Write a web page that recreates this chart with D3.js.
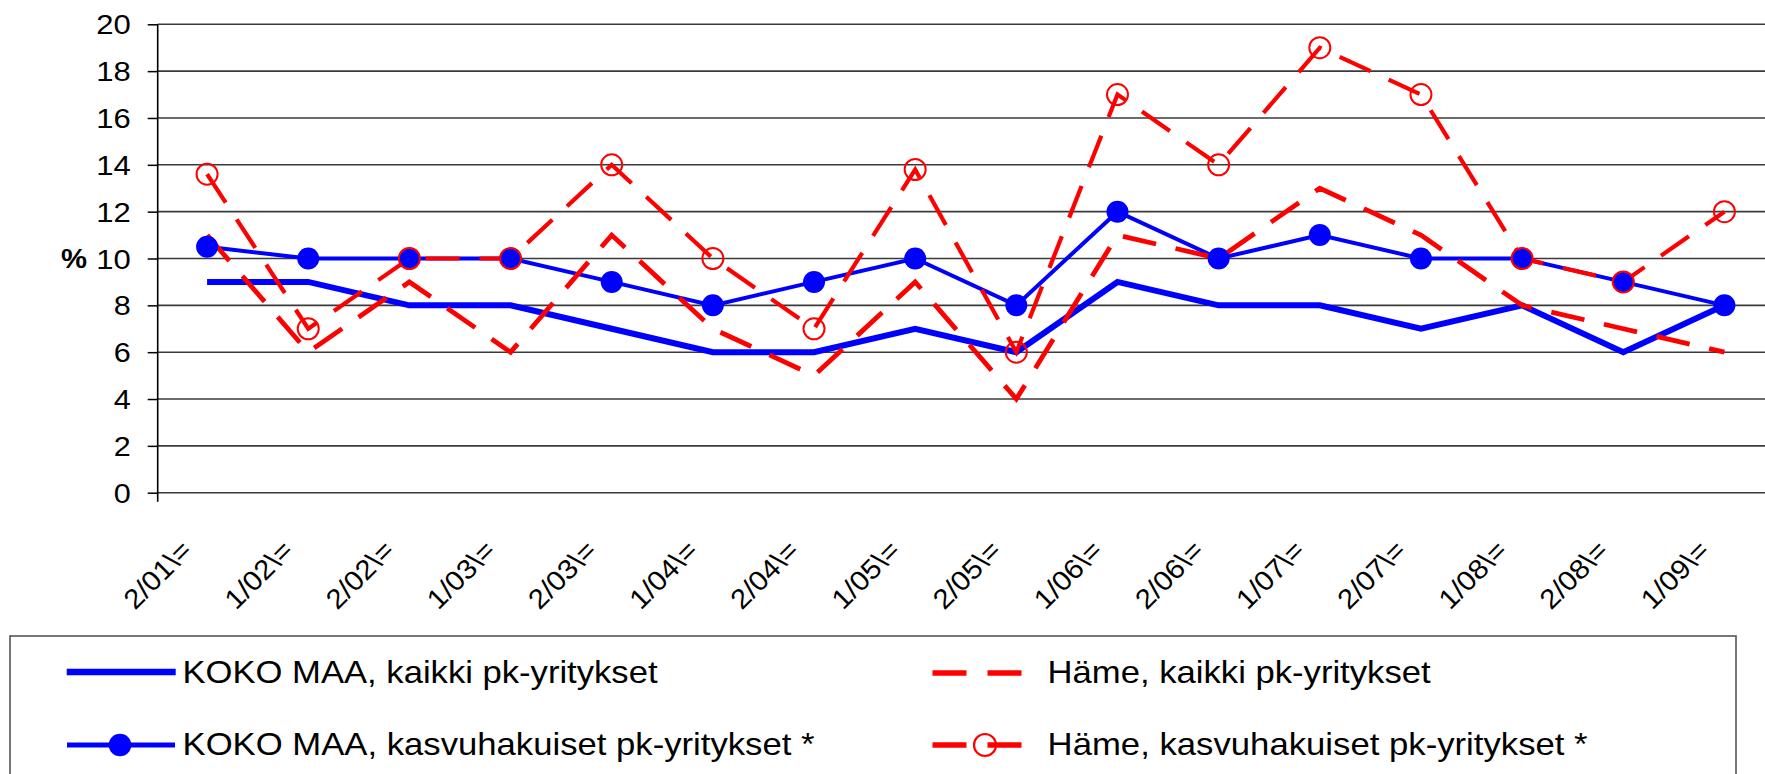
<!DOCTYPE html>
<html>
<head>
<meta charset="utf-8">
<script src="https://cdn.jsdelivr.net/npm/d3@7"></script>
<style>
  html, body { margin: 0; padding: 0; background: #fff; }
  svg { display: block; font-family: "Liberation Sans", Arial, sans-serif; }
</style>
</head>
<body>
<svg id="chart" width="1765" height="774"></svg>
<script>
const categories = ["2/01\\=","1/02\\=","2/02\\=","1/03\\=","2/03\\=","1/04\\=","2/04\\=","1/05\\=","2/05\\=","1/06\\=","2/06\\=","1/07\\=","2/07\\=","1/08\\=","2/08\\=","1/09\\="];
const kokoKaikki = [9, 9, 8, 8, 7, 6, 6, 7, 6, 9, 8, 8, 7, 8, 6, 8];
const kokoKasvu  = [10.5, 10, 10, 10, 9, 8, 9, 10, 8, 12, 10, 11, 10, 10, 9, 8];
const hameKaikki = [11, 6, 9, 6, 11, 7, 5, 9, 4, 11, 10, 13, 11, 8, 7, 6];
const hameKasvu  = [13.6, 7, 10, 10, 14, 10, 7, 13.8, 6, 17, 14, 19, 17, 10, 9, 12];
const yTicks = [0, 2, 4, 6, 8, 10, 12, 14, 16, 18, 20];
const seriesNames = ["KOKO MAA, kaikki pk-yritykset", "KOKO MAA, kasvuhakuiset pk-yritykset *", "Häme, kaikki pk-yritykset", "Häme, kasvuhakuiset pk-yritykset *"];
const yLabel = "%";

(function () {
const svg = d3.select("#chart");
const plotLeft = 157.7, plotTop = 24.3, plotBottom = 492.7;

const x = d3.scalePoint().domain(categories).range([156.5, 1775]).padding(0.5);
const y = d3.scaleLinear().domain([0, 20]).range([plotBottom, plotTop]);

// gridlines
svg.append("g").selectAll("line").data(yTicks).join("line")
  .attr("x1", plotLeft).attr("x2", 1765)
  .attr("y1", d => y(d)).attr("y2", d => y(d))
  .attr("stroke", "#3a3a3a").attr("stroke-width", 1.6);

// y axis
const yAxis = d3.axisLeft(y).tickValues(yTicks).tickSize(10).tickPadding(17).tickFormat(d3.format("d"));
const gy = svg.append("g").attr("transform", `translate(${plotLeft},0)`).call(yAxis);
gy.select(".domain").remove();
gy.selectAll(".tick line").attr("stroke", "#000").attr("stroke-width", 1.5);
gy.selectAll(".tick text").attr("font-size", 27.5).attr("fill", "#000")
  .attr("font-family", "Liberation Sans, Arial, sans-serif").attr("dy", "0.35em")
  .attr("textLength", d => d >= 10 ? 34.5 : 17).attr("lengthAdjust", "spacingAndGlyphs");
svg.append("line").attr("x1", plotLeft).attr("x2", plotLeft).attr("y1", plotTop).attr("y2", plotBottom + 9)
  .attr("stroke", "#000").attr("stroke-width", 1.6);

svg.append("text").attr("x", 87).attr("y", y(10)).attr("dy", "0.35em")
  .attr("text-anchor", "end").attr("font-size", 27.5).attr("font-weight", "bold")
  .attr("textLength", 26).attr("lengthAdjust", "spacingAndGlyphs").text(yLabel);

// x labels
svg.append("g").selectAll("text").data(categories).join("text")
  .attr("transform", d => `translate(${x(d) - 13.5},552) rotate(-45)`)
  .attr("text-anchor", "end").attr("font-size", 27.5).attr("fill", "#000")
  .attr("textLength", 83).attr("lengthAdjust", "spacingAndGlyphs")
  .text(d => d);

const line = d3.line().x((d, i) => x(categories[i])).y(d => y(d));

// lines
svg.append("path").datum(kokoKaikki).attr("d", line).attr("fill", "none")
  .attr("stroke", "#0000ff").attr("stroke-width", 6);
svg.append("path").datum(kokoKasvu).attr("d", line).attr("fill", "none")
  .attr("stroke", "#0000ff").attr("stroke-width", 4);
svg.append("path").datum(hameKaikki).attr("d", line).attr("fill", "none")
  .attr("stroke", "#ff0000").attr("stroke-width", 4.8).attr("stroke-dasharray", "34,20");
svg.append("path").datum(hameKasvu).attr("d", line).attr("fill", "none")
  .attr("stroke", "#ff0000").attr("stroke-width", 4.2).attr("stroke-dasharray", "34,20");

// markers
svg.append("g").selectAll("circle").data(kokoKasvu).join("circle")
  .attr("cx", (d, i) => x(categories[i])).attr("cy", d => y(d)).attr("r", 11)
  .attr("fill", "#0000ff");
svg.append("g").selectAll("circle").data(hameKasvu).join("circle")
  .attr("cx", (d, i) => x(categories[i])).attr("cy", d => y(d)).attr("r", 10.5)
  .attr("fill", "none").attr("stroke", "#ff0000").attr("stroke-width", 2);

// legend
svg.append("rect").attr("x", 10).attr("y", 636).attr("width", 1726).attr("height", 200)
  .attr("fill", "none").attr("stroke", "#555").attr("stroke-width", 1.6);

const lg = svg.append("g");
lg.append("line").attr("x1", 66.7).attr("x2", 175.7).attr("y1", 672).attr("y2", 672)
  .attr("stroke", "#0000ff").attr("stroke-width", 6.5);
lg.append("line").attr("x1", 67).attr("x2", 175).attr("y1", 745).attr("y2", 745)
  .attr("stroke", "#0000ff").attr("stroke-width", 5);
lg.append("circle").attr("cx", 120).attr("cy", 745).attr("r", 11.3).attr("fill", "#0000ff");
lg.append("line").attr("x1", 932.5).attr("x2", 1042).attr("y1", 673).attr("y2", 673)
  .attr("stroke", "#ff0000").attr("stroke-width", 5.5).attr("stroke-dasharray", "34,21");
lg.append("line").attr("x1", 932.5).attr("x2", 1042).attr("y1", 745).attr("y2", 745)
  .attr("stroke", "#ff0000").attr("stroke-width", 5.5).attr("stroke-dasharray", "34,21");
lg.append("circle").attr("cx", 985).attr("cy", 745).attr("r", 11).attr("fill", "none")
  .attr("stroke", "#ff0000").attr("stroke-width", 2.2);

const legendText = [
  {name: seriesNames[0], x: 182.5, y: 683, w: 475},
  {name: seriesNames[1], x: 182.5, y: 755, w: 632},
  {name: seriesNames[2], x: 1047.6, y: 683, w: 383},
  {name: seriesNames[3], x: 1047.6, y: 755, w: 540}
];
lg.selectAll("text.lt").data(legendText).join("text").attr("class", "lt")
  .attr("x", d => d.x).attr("y", d => d.y).attr("font-size", 31.5).attr("fill", "#000")
  .attr("textLength", d => d.w).attr("lengthAdjust", "spacingAndGlyphs")
  .text(d => d.name);
})();
</script>
</body>
</html>
